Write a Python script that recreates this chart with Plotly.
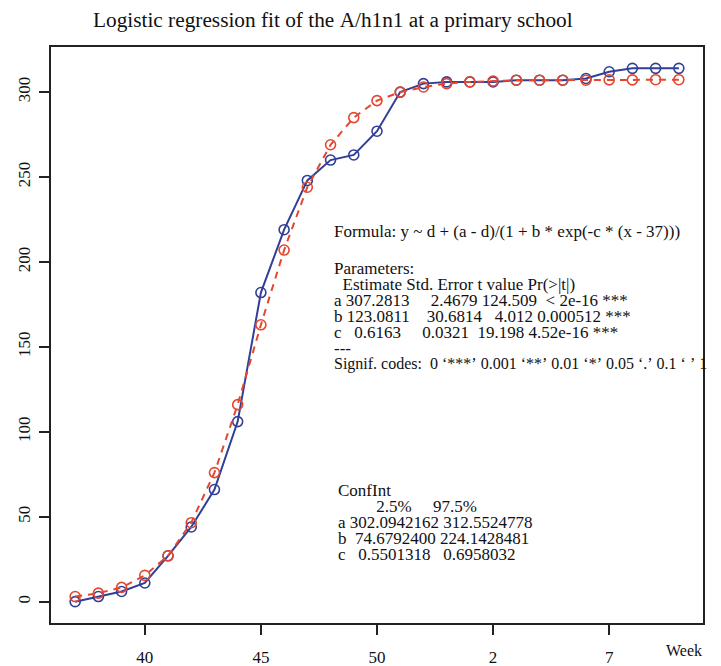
import plotly.graph_objects as go

# Week index: weeks 37-53 of 2009 continue as 54.. for weeks 1-10 of 2010
week_index = list(range(37, 64))
observed_cases = [0, 3, 6, 11, 27, 44, 66, 106, 182, 219, 248, 260, 263,
                  277, 300, 305, 306, 306, 306, 307, 307, 307, 308, 312,
                  314, 314, 314]
fitted_cases = [3, 5, 8.4, 15.5, 27, 46.5, 76, 116, 163, 207, 244, 269, 285,
                295, 300, 303, 305, 306, 306.5, 307, 307, 307, 307, 307.2,
                307.2, 307.3, 307.3]

x_tick_vals = [40, 45, 50, 55, 60]
x_tick_text = ["40", "45", "50", "2", "7"]
y_tick_vals = [0, 50, 100, 150, 200, 250, 300]

title_text = "Logistic regression fit of the A/h1n1 at a primary school"

formula_line = "Formula: y ~ d + (a - d)/(1 + b * exp(-c * (x - 37)))"
param_lines = [
    "Parameters:",
    "  Estimate Std. Error t value Pr(>|t|)",
    "a 307.2813     2.4679 124.509  < 2e-16 ***",
    "b 123.0811    30.6814   4.012 0.000512 ***",
    "c   0.6163     0.0321  19.198 4.52e-16 ***",
    "---",
]
signif_line = ("Signif. codes:  0 \u2018***\u2019 0.001 \u2018**\u2019 0.01 "
               "\u2018*\u2019 0.05 \u2018.\u2019 0.1 \u2018 \u2019 1")
confint_lines = [
    "ConfInt",
    "         2.5%     97.5%",
    "a 302.0942162 312.5524778",
    "b  74.6792400 224.1428481",
    "c   0.5501318   0.6958032",
]

W, H = 721, 666
L, R, T, B = 51, 703, 47, 623
FONT = "Liberation Serif, Times New Roman, serif"
BLUE = "#313f96"
RED = "#e4472f"
INK = "#111"


def px(x):
    return (x - L) / (R - L)


def py(y):
    return (B - y) / (B - T)


def nb(s):
    return s.replace(" ", "\u00a0")


def label(text, x, y, size=17, anchor="left"):
    return dict(x=px(x), y=py(y), xref="paper", yref="paper", text=nb(text),
                showarrow=False, xanchor=anchor, yanchor="middle",
                borderpad=0, font=dict(family=FONT, size=size, color=INK))


fig = go.Figure()
fig.add_trace(go.Scatter(
    x=week_index, y=observed_cases, mode="lines+markers",
    line=dict(color=BLUE, width=2),
    marker=dict(symbol="circle-open", size=10, color=BLUE, line=dict(width=1.6)),
))
fig.add_trace(go.Scatter(
    x=week_index, y=fitted_cases, mode="lines+markers",
    line=dict(color=RED, width=2, dash="7px,6px"),
    marker=dict(symbol="circle-open", size=10, color=RED, line=dict(width=1.6)),
))

pitch = 16
annotations = [label(formula_line, 333, 231)]
for i, line in enumerate(param_lines):
    annotations.append(label(line, 333, 268 + i * pitch))
annotations.append(label(signif_line, 333, 268 + len(param_lines) * pitch, size=16))
for i, line in enumerate(confint_lines):
    annotations.append(label(line, 337, 490 + i * pitch))
annotations.append(label("Week", 684, 650, size=16, anchor="center"))
annotations.append(label(title_text, 333, 20, size=21.3, anchor="center"))

fig.update_layout(
    width=W, height=H,
    margin=dict(l=L, r=W - R, t=T, b=H - B, autoexpand=False),
    plot_bgcolor="white", paper_bgcolor="white", showlegend=False,
    font=dict(family=FONT, color=INK),
    annotations=annotations,
)
axis_common = dict(
    showline=True, linecolor="#222", linewidth=1.5, mirror=True,
    ticks="outside", ticklen=10, tickwidth=1.5, tickcolor="#222",
    showgrid=False, zeroline=False, automargin=False,
    tickfont=dict(family=FONT, size=17, color=INK),
)
fig.update_xaxes(range=[35.96, 64.04], tickvals=x_tick_vals,
                 ticktext=x_tick_text, ticklabelstandoff=8, **axis_common)
fig.update_yaxes(range=[-12.56, 326.56], tickvals=y_tick_vals,
                 tickangle=-90, ticklabelstandoff=2, **axis_common)

fig.write_html("out.html")
